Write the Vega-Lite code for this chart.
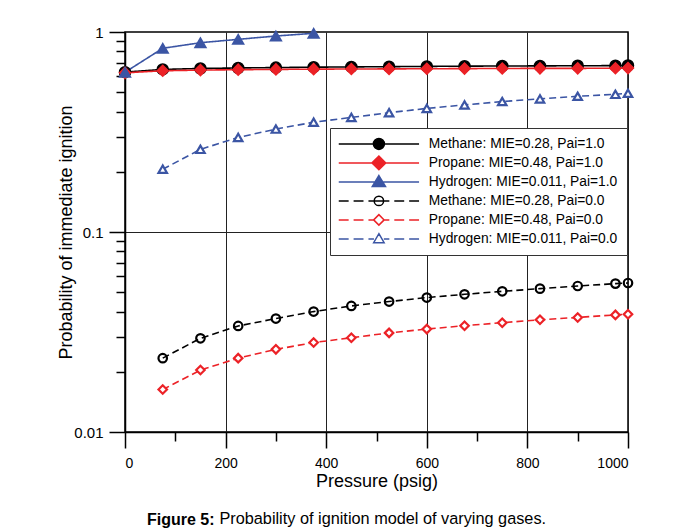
{
  "$schema": "https://vega.github.io/schema/vega-lite/v6.json",
  "width": 503,
  "height": 400,
  "autosize": {"type": "none"},
  "padding": {"left": 125, "top": 32, "right": 50, "bottom": 99},
  "background": "white",
  "title": {
    "text": "Figure 5:",
    "subtitle": "\u200b\u00a0\u00a0\u00a0\u00a0\u00a0\u00a0\u00a0\u00a0\u00a0\u00a0\u00a0\u00a0\u00a0\u00a0\u00a0\u00a0Probability of ignition model of varying gases.",
    "orient": "bottom",
    "anchor": "start",
    "frame": "group",
    "dx": 22,
    "offset": 22,
    "font": "Liberation Sans",
    "fontSize": 16,
    "fontWeight": "bold",
    "color": "black",
    "subtitleFont": "Liberation Sans",
    "subtitleFontSize": 16.3,
    "subtitleColor": "black",
    "subtitlePadding": -17
  },
  "config": {
    "view": {"stroke": "black", "strokeWidth": 1.5},
    "axis": {
      "domainColor": "black",
      "tickColor": "black",
      "labelColor": "black",
      "titleColor": "black",
      "labelFont": "Liberation Sans",
      "titleFont": "Liberation Sans",
      "titleFontWeight": "normal"
    }
  },
  "data": {
    "values": [
      {"series": "m1", "p": 0, "prob": 0.630}, {"series": "m1", "p": 75, "prob": 0.650}, {"series": "m1", "p": 150, "prob": 0.657}, {"series": "m1", "p": 225, "prob": 0.661}, {"series": "m1", "p": 300, "prob": 0.664}, {"series": "m1", "p": 375, "prob": 0.667}, {"series": "m1", "p": 450, "prob": 0.669}, {"series": "m1", "p": 525, "prob": 0.671}, {"series": "m1", "p": 600, "prob": 0.673}, {"series": "m1", "p": 675, "prob": 0.675}, {"series": "m1", "p": 750, "prob": 0.676}, {"series": "m1", "p": 825, "prob": 0.677}, {"series": "m1", "p": 900, "prob": 0.678}, {"series": "m1", "p": 975, "prob": 0.679}, {"series": "m1", "p": 1000, "prob": 0.680},
      {"series": "p1", "p": 0, "prob": 0.625}, {"series": "p1", "p": 75, "prob": 0.640}, {"series": "p1", "p": 150, "prob": 0.645}, {"series": "p1", "p": 225, "prob": 0.648}, {"series": "p1", "p": 300, "prob": 0.650}, {"series": "p1", "p": 375, "prob": 0.652}, {"series": "p1", "p": 450, "prob": 0.653}, {"series": "p1", "p": 525, "prob": 0.654}, {"series": "p1", "p": 600, "prob": 0.655}, {"series": "p1", "p": 675, "prob": 0.656}, {"series": "p1", "p": 750, "prob": 0.657}, {"series": "p1", "p": 825, "prob": 0.658}, {"series": "p1", "p": 900, "prob": 0.658}, {"series": "p1", "p": 975, "prob": 0.659}, {"series": "p1", "p": 1000, "prob": 0.660},
      {"series": "h1", "p": 0, "prob": 0.629}, {"series": "h1", "p": 75, "prob": 0.829}, {"series": "h1", "p": 150, "prob": 0.884}, {"series": "h1", "p": 225, "prob": 0.919}, {"series": "h1", "p": 300, "prob": 0.955}, {"series": "h1", "p": 375, "prob": 0.985},
      {"series": "m0", "p": 75, "prob": 0.0234}, {"series": "m0", "p": 150, "prob": 0.0294}, {"series": "m0", "p": 225, "prob": 0.0339}, {"series": "m0", "p": 300, "prob": 0.0369}, {"series": "m0", "p": 375, "prob": 0.0400}, {"series": "m0", "p": 450, "prob": 0.0427}, {"series": "m0", "p": 525, "prob": 0.0449}, {"series": "m0", "p": 600, "prob": 0.0470}, {"series": "m0", "p": 675, "prob": 0.0488}, {"series": "m0", "p": 750, "prob": 0.0505}, {"series": "m0", "p": 825, "prob": 0.0521}, {"series": "m0", "p": 900, "prob": 0.0537}, {"series": "m0", "p": 975, "prob": 0.0552}, {"series": "m0", "p": 1000, "prob": 0.0556},
      {"series": "p0", "p": 75, "prob": 0.0163}, {"series": "p0", "p": 150, "prob": 0.0204}, {"series": "p0", "p": 225, "prob": 0.0234}, {"series": "p0", "p": 300, "prob": 0.0259}, {"series": "p0", "p": 375, "prob": 0.0280}, {"series": "p0", "p": 450, "prob": 0.0296}, {"series": "p0", "p": 525, "prob": 0.0313}, {"series": "p0", "p": 600, "prob": 0.0327}, {"series": "p0", "p": 675, "prob": 0.0340}, {"series": "p0", "p": 750, "prob": 0.0352}, {"series": "p0", "p": 825, "prob": 0.0364}, {"series": "p0", "p": 900, "prob": 0.0374}, {"series": "p0", "p": 975, "prob": 0.0385}, {"series": "p0", "p": 1000, "prob": 0.0388},
      {"series": "h0", "p": 75, "prob": 0.206}, {"series": "h0", "p": 150, "prob": 0.259}, {"series": "h0", "p": 225, "prob": 0.297}, {"series": "h0", "p": 300, "prob": 0.327}, {"series": "h0", "p": 375, "prob": 0.354}, {"series": "h0", "p": 450, "prob": 0.374}, {"series": "h0", "p": 525, "prob": 0.395}, {"series": "h0", "p": 600, "prob": 0.415}, {"series": "h0", "p": 675, "prob": 0.432}, {"series": "h0", "p": 750, "prob": 0.449}, {"series": "h0", "p": 825, "prob": 0.463}, {"series": "h0", "p": 900, "prob": 0.477}, {"series": "h0", "p": 975, "prob": 0.488}, {"series": "h0", "p": 1000, "prob": 0.494}
    ]
  },
  "encoding": {
    "x": {
      "field": "p", "type": "quantitative",
      "scale": {"domain": [0, 1000], "nice": false},
      "axis": {
        "title": "Pressure (psig)",
        "values": [0, 100, 200, 300, 400, 500, 600, 700, 800, 900, 1000],
        "format": "d",
        "labelExpr": "datum.value % 200 == 0 ? datum.label : ''",
        "tickSize": {"condition": {"test": "datum.value % 200 == 0", "value": 16}, "value": 9},
        "tickWidth": 1.5,
        "domainWidth": 1.5,
        "labelPadding": 8,
        "labelFontSize": 14,
        "titleFontSize": 18,
        "titlePadding": 2,
        "grid": true,
        "gridColor": "#222",
        "gridWidth": 1,
        "gridOpacity": {"condition": {"test": "datum.value % 200 == 0", "value": 1}, "value": 0}
      }
    },
    "y": {
      "field": "prob", "type": "quantitative",
      "scale": {"type": "log", "domain": [0.01, 1], "nice": false},
      "axis": {
        "title": "Probability of immediate ignition",
        "values": [0.01, 0.02, 0.03, 0.04, 0.05, 0.06, 0.07, 0.08, 0.09, 0.1, 0.2, 0.3, 0.4, 0.5, 0.6, 0.7, 0.8, 0.9, 1],
        "labelExpr": "(datum.value == 0.01 || datum.value == 0.1 || datum.value == 1) ? datum.label : ''",
        "format": "~g",
        "tickSize": {"condition": {"test": "datum.value == 0.01 || datum.value == 0.1 || datum.value == 1", "value": 16}, "value": 9},
        "tickWidth": 1.5,
        "domainWidth": 1.5,
        "labelPadding": 6,
        "labelFontSize": 15,
        "titleFontSize": 18,
        "titlePadding": -2,
        "grid": true,
        "gridColor": "#222",
        "gridWidth": 1,
        "gridOpacity": {"condition": {"test": "datum.value == 0.1", "value": 1}, "value": 0}
      }
    }
  },
  "layer": [
    {
      "mark": {"type": "line", "strokeWidth": 1.6},
      "encoding": {
        "stroke": {
          "field": "series", "type": "nominal",
          "scale": {"domain": ["m1", "p1", "h1", "m0", "p0", "h0"], "range": ["black", "#ec2227", "#3b55a4", "black", "#ec2227", "#3b55a4"]},
          "legend": {
            "orient": "none",
            "legendX": 205,
            "legendY": 96,
            "title": null,
            "padding": 9,
            "strokeColor": "#333",
            "fillColor": "white",
            "symbolSize": 121,
            "symbolStrokeWidth": 1.5,
            "symbolOpacity": 1,
            "symbolOffset": 33,
            "labelOffset": 43,
            "labelLimit": 300,
            "gridAlign": "all",
            "rowPadding": -1,
            "labelFont": "Liberation Sans",
            "labelFontSize": 13.8,
            "labelColor": "black",
            "labelExpr": "({'m1': 'Methane: MIE=0.28, Pai=1.0', 'p1': 'Propane: MIE=0.48, Pai=1.0', 'h1': 'Hydrogen: MIE=0.011, Pai=1.0', 'm0': 'Methane: MIE=0.28, Pai=0.0', 'p0': 'Propane: MIE=0.48, Pai=0.0', 'h0': 'Hydrogen: MIE=0.011, Pai=0.0'})[datum.value]",
            "encode": {
              "symbols": {
                "update": {
                  "shape": {"signal": "({'m1': 'M-7.3,0H7.3M1,0A1,1,0,1,1,-1,0A1,1,0,1,1,1,0Z', 'p1': 'M-7.3,0H7.3M-1.25,0L0,-1.25L1.25,0L0,1.25Z', 'h1': 'M-7.3,0H7.3M0,-1.15L1.2,0.85L-1.2,0.85Z', 'm0': 'M-7.3,0H-5.5M-4.6,0H-2.8M-1.9,0H1.9M2.8,0H4.6M5.5,0H7.3M0.85,0A0.85,0.85,0,1,1,-0.85,0A0.85,0.85,0,1,1,0.85,0Z', 'p0': 'M-7.3,0H-5.5M-4.6,0H-2.8M-1.9,0H-1M1,0H1.9M2.8,0H4.6M5.5,0H7.3M-0.95,0L0,-0.95L0.95,0L0,0.95Z', 'h0': 'M-7.3,0H-5.5M-4.6,0H-2.8M-1.9,0H-0.9M0.9,0H1.9M2.8,0H4.6M5.5,0H7.3M0,-0.95L0.95,0.7L-0.95,0.7Z'})[datum.value]"},
                  "fill": {"signal": "({'m1': 'black', 'p1': '#ec2227', 'h1': '#3b55a4', 'm0': 'transparent', 'p0': 'white', 'h0': 'white'})[datum.value]"},
                  "strokeWidth": {"value": 1.5},
                  "opacity": {"value": 1}
                }
              }
            }
          }
        },
        "strokeDash": {
          "condition": {"test": "indexof(['m0','p0','h0'], datum.series) >= 0", "value": [7, 4]},
          "value": [1, 0]
        }
      }
    },
    {
      "transform": [{"filter": "indexof(['m1','p1','h1'], datum.series) >= 0"}],
      "mark": {"type": "point", "filled": false, "size": 121, "strokeWidth": 1.5, "opacity": 1},
      "encoding": {
        "stroke": {"condition": [{"test": "datum.series == 'p1'", "value": "#ec2227"}, {"test": "datum.series == 'h1'", "value": "#3b55a4"}], "value": "black"},
        "fill": {"condition": [{"test": "datum.series == 'p1'", "value": "#ec2227"}, {"test": "datum.series == 'h1'", "value": "#3b55a4"}], "value": "black"},
        "shape": {"condition": [{"test": "datum.series == 'p1'", "value": "diamond"}, {"test": "datum.series == 'h1'", "value": "triangle-up"}], "value": "circle"}
      }
    },
    {
      "transform": [{"filter": "indexof(['m0','p0','h0'], datum.series) >= 0"}],
      "mark": {"type": "point", "filled": false, "size": 72, "strokeWidth": 2.2, "opacity": 1},
      "encoding": {
        "stroke": {"condition": [{"test": "datum.series == 'p0'", "value": "#ec2227"}, {"test": "datum.series == 'h0'", "value": "#3b55a4"}], "value": "black"},
        "fill": {"condition": {"test": "datum.series == 'm0'", "value": "transparent"}, "value": "white"},
        "shape": {"condition": [{"test": "datum.series == 'p0'", "value": "diamond"}, {"test": "datum.series == 'h0'", "value": "triangle-up"}], "value": "circle"}
      }
    }
  ]
}
